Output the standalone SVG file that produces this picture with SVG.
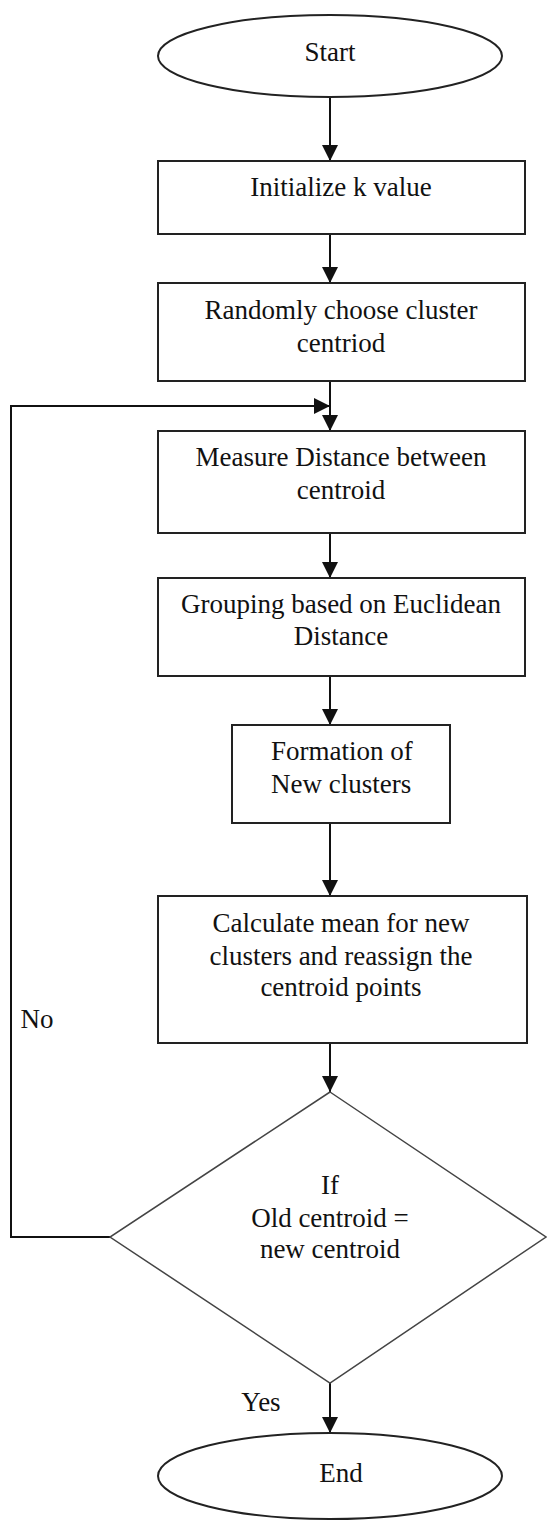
<svg xmlns="http://www.w3.org/2000/svg" width="547" height="1528" viewBox="0 0 547 1528">
<defs>
<marker id="ah" viewBox="0 0 16 16" refX="16" refY="8" markerWidth="16" markerHeight="16" markerUnits="userSpaceOnUse" orient="auto">
<path d="M0,0 L16,8 L0,16 Z" fill="#111"/>
</marker>
<style>
.n{fill:#fff;stroke:#222;stroke-width:2}
.d{fill:#fff;stroke:#444;stroke-width:1.5}
.t{font-family:"Liberation Serif","Times New Roman",serif;font-size:27px;fill:#111;text-anchor:middle}
.c{fill:none;stroke:#111;stroke-width:2}
</style>
</defs>
<rect width="547" height="1528" fill="#fff"/>
<g id="connectors">
<line class="c" x1="330" y1="97" x2="330" y2="161" marker-end="url(#ah)"/>
<line class="c" x1="330" y1="234" x2="330" y2="283" marker-end="url(#ah)"/>
<line class="c" x1="330" y1="381" x2="330" y2="431" marker-end="url(#ah)"/>
<line class="c" x1="330" y1="533" x2="330" y2="578" marker-end="url(#ah)"/>
<line class="c" x1="330" y1="676" x2="330" y2="725" marker-end="url(#ah)"/>
<line class="c" x1="330" y1="823" x2="330" y2="896" marker-end="url(#ah)"/>
<line class="c" x1="330" y1="1043" x2="330" y2="1092" marker-end="url(#ah)"/>
<line class="c" x1="330" y1="1383" x2="330" y2="1433" marker-end="url(#ah)"/>
<polyline class="c" points="110,1237 11,1237 11,406 330,406" marker-end="url(#ah)"/>
</g>
<g id="start">
<ellipse class="n" cx="330" cy="56" rx="172" ry="41"/>
<text class="t" x="330" y="61">Start</text>
</g>
<g id="init">
<rect class="n" x="158" y="161" width="367" height="73"/>
<text class="t" x="341" y="196">Initialize k value</text>
</g>
<g id="random">
<rect class="n" x="158" y="283" width="367" height="98"/>
<text class="t" x="341" y="319">Randomly choose cluster</text>
<text class="t" x="341" y="352">centriod</text>
</g>
<g id="measure">
<rect class="n" x="158" y="431" width="367" height="102"/>
<text class="t" x="341" y="466">Measure Distance between</text>
<text class="t" x="341" y="499">centroid</text>
</g>
<g id="grouping">
<rect class="n" x="158" y="578" width="367" height="98"/>
<text class="t" x="341" y="613">Grouping based on Euclidean</text>
<text class="t" x="341" y="645">Distance</text>
</g>
<g id="formation">
<rect class="n" x="232" y="725" width="218" height="98"/>
<text class="t" x="271" y="760" style="text-anchor:start">Formation of</text>
<text class="t" x="271" y="793" style="text-anchor:start">New clusters</text>
</g>
<g id="calculate">
<rect class="n" x="158" y="896" width="369" height="147"/>
<text class="t" x="341" y="932">Calculate mean for new</text>
<text class="t" x="341" y="965">clusters and reassign the</text>
<text class="t" x="341" y="996">centroid points</text>
</g>
<g id="decision">
<polygon class="d" points="330,1092 546,1237 330,1383 110,1237"/>
<text class="t" x="330" y="1194">If</text>
<text class="t" x="330" y="1227">Old centroid =</text>
<text class="t" x="330" y="1258">new centroid</text>
</g>
<g id="end">
<ellipse class="n" cx="330" cy="1476" rx="172" ry="43"/>
<text class="t" x="341" y="1482">End</text>
</g>
<g id="labels">
<text class="t" x="37" y="1028">No</text>
<text class="t" x="261" y="1411">Yes</text>
</g>
</svg>
